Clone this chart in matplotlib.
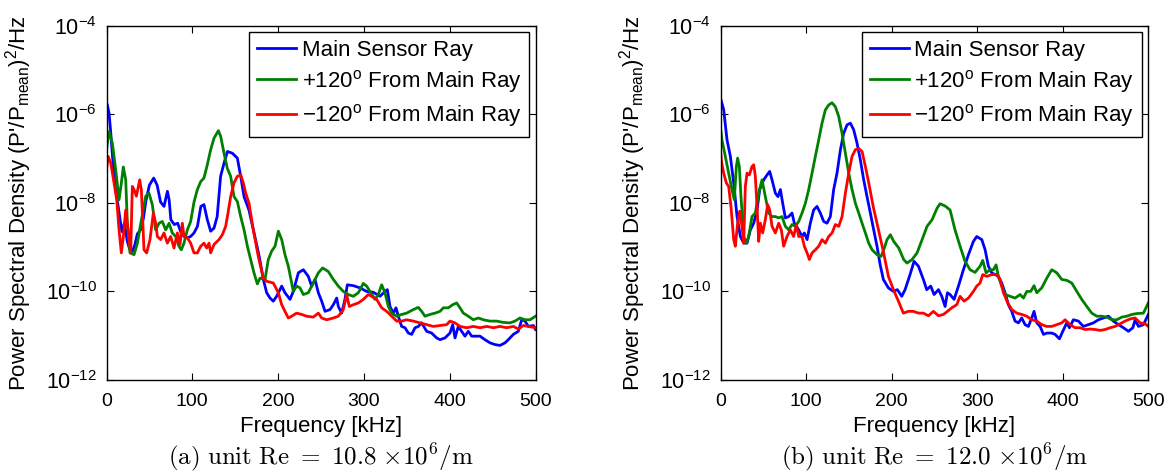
import matplotlib
matplotlib.use("Agg")
import numpy as np
import matplotlib.pyplot as plt
from matplotlib.ticker import FixedLocator, FuncFormatter, NullLocator

plt.rcParams['font.family'] = ['Liberation Sans', 'DejaVu Sans']
plt.rcParams['mathtext.fontset'] = 'custom'
plt.rcParams['mathtext.rm'] = 'Liberation Sans'
plt.rcParams['mathtext.it'] = 'Liberation Sans:italic'
plt.rcParams['mathtext.bf'] = 'Liberation Sans:bold'
plt.rcParams['mathtext.sf'] = 'Liberation Sans'

# ---------------- data (PSD, stored as log10 values) ----------------
# Panel (a): unit Re = 10.8e6/m
a_main_freq = [1, 3, 5, 7, 10, 13, 16, 18, 21, 24,
               27, 30, 33, 36, 40, 43, 46, 50, 55, 59,
               63, 67, 71, 73, 75, 79, 83, 87, 90.5, 94.4,
               98, 102, 106, 110, 113.6, 117.5, 121.4, 125.3, 129, 133,
               137, 141, 146.7, 152.5, 156.4, 160.3, 166, 172, 178, 182.8,
               186.7, 190.6, 194.4, 198.3, 204.2, 208, 213.9, 217.7, 223.6, 229.4,
               235.2, 239.1, 243, 246.9, 250.8, 254.7, 260.5, 264.4, 268.3, 270.2,
               274.1, 277.9, 280.7, 287.7, 295.4, 303.2, 311, 318.8, 324.6, 327.3,
               330.4, 334.3, 337.4, 340.1, 344, 347.9, 351.8, 355.7, 359.6, 363.4,
               367.3, 373.1, 378.9, 384.8, 388.7, 394.5, 400.3, 403.5, 406.2, 410,
               413.9, 417.8, 421.7, 425.6, 435.3, 441.1, 446.9, 452.8, 458.6, 464.5,
               468.3, 474.2, 480, 483.9, 487.8, 491.6, 497.5, 500]
a_main_log = [-5.79, -5.98, -6.43, -6.95, -7.6, -8.0, -8.4, -8.65, -8.45, -8.85,
              -9.05, -9.1, -8.95, -8.7, -8.6, -8.35, -7.95, -7.6, -7.44, -7.6,
              -7.98, -8.08, -7.74, -7.93, -8.38, -8.49, -8.46, -8.68, -8.76, -8.79,
              -8.76, -8.68, -8.53, -8.08, -8.04, -8.38, -8.64, -8.57, -8.31, -7.40,
              -7.10, -6.84, -6.88, -6.99, -7.40, -7.86, -8.16, -8.68, -9.21, -9.73,
              -10.03, -10.15, -10.22, -10.11, -9.88, -10.03, -10.18, -10.0, -9.58, -9.51,
              -9.66, -9.88, -9.73, -10.03, -10.22, -10.45, -10.41, -10.30, -10.15, -10.34,
              -10.49, -10.18, -9.85, -9.87, -9.92, -10.0, -10.02, -10.11, -10.0, -9.96,
              -10.34, -10.49, -10.37, -10.56, -10.79, -10.82, -10.94, -10.97, -10.82, -10.79,
              -10.71, -10.90, -10.94, -11.05, -11.09, -11.05, -10.94, -10.75, -11.05, -10.79,
              -10.90, -11.01, -10.90, -11.01, -11.01, -11.09, -11.16, -11.20, -11.22, -11.16,
              -11.09, -10.97, -10.90, -10.64, -10.67, -10.79, -10.77, -10.86]

a_plus_freq = [0, 2.9, 6.8, 10.7, 14.6, 17, 19.6, 22.4, 24.3, 27.4,
               32.1, 36, 40, 45.7, 49.5, 53.4, 57.3, 61.2, 65, 69,
               72.9, 76.7, 80.6, 84.5, 87.2, 90.3, 94.2, 98.1, 102, 105.9,
               109.8, 113.6, 117.5, 121.4, 125.3, 130.4, 133.1, 137, 140.8, 144.7,
               148.6, 152.5, 156.4, 160.3, 164.2, 168, 171.9, 175.8, 178.9, 184.7,
               188.6, 192.5, 196.4, 200.3, 204.2, 208, 211.9, 215.8, 217.7, 221.6,
               225.5, 229.4, 235.2, 241, 246.9, 251.9, 258.5, 264.4, 270.2, 276,
               281.8, 287.7, 293.5, 299.3, 303.2, 307.1, 312.9, 316.8, 320.7, 324.6,
               328.5, 332.4, 338.2, 344, 349.8, 357.6, 363.4, 367.3, 371.2, 377,
               382.9, 388.7, 392.6, 398.4, 403.5, 408.1, 412, 415.9, 421.7, 427.5,
               433.4, 439.2, 446.9, 454.7, 462.5, 470.3, 476.1, 481.9, 487.8, 493.6,
               500]
a_plus_log = [-6.80, -6.39, -6.65, -7.25, -7.93, -7.6, -7.19, -7.48, -8.46, -9.13,
              -9.17, -8.91, -8.46, -7.85, -7.78, -8.04, -8.61, -8.46, -8.42, -8.61,
              -8.46, -8.68, -8.76, -8.98, -9.06, -8.91, -8.61, -8.42, -7.98, -7.70,
              -7.52, -7.44, -7.14, -6.80, -6.54, -6.37, -6.50, -6.88, -7.22, -7.40,
              -7.86, -7.97, -8.31, -8.61, -8.98, -9.28, -9.58, -9.83, -9.70, -9.73,
              -9.28, -9.09, -8.98, -8.64, -8.83, -9.17, -9.43, -9.81, -10.0, -9.88,
              -9.92, -10.07, -10.03, -9.81, -9.58, -9.47, -9.55, -9.73, -9.88, -10.0,
              -10.07, -10.11, -10.03, -9.82, -9.88, -10.0, -10.18, -10.07, -9.85, -10.03,
              -10.34, -10.49, -10.56, -10.52, -10.49, -10.41, -10.36, -10.45, -10.56, -10.52,
              -10.49, -10.45, -10.37, -10.37, -10.30, -10.26, -10.37, -10.49, -10.56, -10.64,
              -10.60, -10.64, -10.67, -10.67, -10.70, -10.71, -10.67, -10.60, -10.64, -10.64,
              -10.56]

a_minus_freq = [0.2, 1.8, 4.9, 8.8, 11.9, 14.6, 17.3, 19.6, 22.4, 25.1,
                28.2, 30.1, 32.1, 34.8, 38.7, 40.6, 43.7, 46.8, 50.7, 54.6,
                57.3, 59.3, 63.1, 67, 70.9, 74.8, 78.7, 82.6, 85.7, 88.4,
                90.3, 94.2, 98.1, 102, 105.9, 109.8, 113.6, 116.8, 119.5, 121.4,
                125.3, 131.1, 135, 138.9, 141.6, 144.7, 148.6, 152.5, 156.4, 159.5,
                162.2, 166.1, 171.1, 176.9, 182.8, 186.7, 194.4, 200.3, 204.2, 208,
                211.9, 215.8, 221.6, 227.5, 233.3, 241, 246.9, 250.8, 256.6, 264.4,
                270.2, 276, 279.9, 283, 287.7, 293.5, 299.3, 305.2, 309, 314.9,
                320.7, 326.5, 332.4, 338.2, 344, 349.8, 357.6, 365.4, 373.1, 380.9,
                388.7, 396.5, 400.3, 406.2, 412, 419.8, 427.5, 435.3, 443.1, 450.9,
                458.6, 466.4, 474.2, 480, 485.8, 491.6, 500]
a_minus_log = [-7.22, -6.95, -7.10, -7.55, -7.93, -8.61, -9.13, -8.76, -8.16, -8.61,
               -9.13, -7.63, -7.70, -7.85, -7.48, -7.70, -9.06, -9.13, -8.83, -8.23,
               -8.46, -8.76, -8.83, -8.68, -8.91, -8.76, -9.02, -8.68, -8.94, -8.46,
               -8.76, -8.79, -8.91, -9.13, -9.13, -8.98, -8.91, -9.02, -8.91, -9.13,
               -8.94, -8.83, -8.72, -8.53, -8.23, -7.86, -7.55, -7.40, -7.37, -7.55,
               -7.78, -8.01, -8.61, -9.21, -9.70, -9.77, -9.81, -10.03, -10.30, -10.45,
               -10.60, -10.56, -10.49, -10.52, -10.56, -10.58, -10.49, -10.60, -10.64, -10.60,
               -10.56, -10.41, -10.07, -10.34, -10.30, -10.26, -10.18, -10.07, -10.11, -10.18,
               -10.37, -10.45, -10.56, -10.67, -10.67, -10.64, -10.67, -10.71, -10.75, -10.79,
               -10.77, -10.75, -10.67, -10.71, -10.79, -10.82, -10.79, -10.82, -10.79, -10.82,
               -10.79, -10.82, -10.79, -10.85, -10.77, -10.79, -10.82]

# Panel (b): unit Re = 12.0e6/m
b_main_freq = [0.4, 3.5, 7.4, 11.3, 15.2, 19.1, 23, 26.9, 30.8, 34.7,
               38.6, 42.5, 45.6, 50.3, 54.2, 57.3, 60, 63.9, 67, 69.8,
               72.5, 75.6, 79.5, 83.4, 86.1, 91.2, 95.1, 97.8, 101, 104.8,
               108.7, 112.6, 116.5, 120.4, 124.3, 128.2, 132.1, 136, 140, 143.8,
               147.7, 151.6, 155.5, 159.4, 163.3, 167.2, 171.1, 175, 178.9, 182.8,
               186.5, 190.2, 196.1, 202, 206.6, 211.7, 215.6, 221.4, 226.1, 231.2,
               237, 240.9, 245.6, 249.5, 254.6, 258.5, 262.4, 265.1, 268.2, 272.9,
               278, 283.8, 289.7, 295.5, 299.4, 305.3, 309.2, 313, 316.9, 320.8,
               324.7, 328.6, 332.5, 336.4, 340.3, 344.2, 348.1, 352, 355.9, 359.8,
               363.7, 366.4, 369.6, 373.5, 377.4, 381.3, 387.1, 391, 396.1, 400,
               404.7, 407.8, 412.4, 418.3, 424.1, 430, 435.9, 441.7, 447.5, 453.4,
               459.2, 465.1, 470.9, 476.8, 481.9, 484.6, 488.5, 494.3, 500]
b_main_log = [-5.68, -5.90, -6.58, -6.95, -7.55, -8.31, -8.76, -8.91, -8.91, -8.61,
              -8.46, -8.16, -7.70, -7.48, -7.37, -7.29, -7.48, -7.78, -7.86, -7.70,
              -8.01, -8.34, -8.31, -8.23, -8.46, -8.61, -8.76, -8.68, -8.83, -8.46,
              -8.16, -8.08, -8.23, -8.42, -8.46, -8.31, -7.70, -7.33, -6.80, -6.43,
              -6.24, -6.20, -6.35, -6.65, -7.03, -7.48, -7.86, -8.23, -8.61, -8.98,
              -9.40, -9.73, -9.92, -10.0, -9.96, -10.11, -9.96, -9.62, -9.32, -9.43,
              -9.73, -9.96, -9.88, -10.07, -9.96, -10.11, -10.34, -10.03, -10.07, -10.18,
              -9.88, -9.51, -9.17, -8.87, -8.76, -8.83, -9.06, -9.43, -9.58, -9.62,
              -9.66, -9.81, -10.03, -10.30, -10.45, -10.67, -10.71, -10.60, -10.75, -10.79,
              -10.60, -10.45, -10.71, -10.79, -10.97, -10.94, -10.94, -10.97, -11.07, -10.90,
              -10.71, -10.82, -10.64, -10.67, -10.79, -10.75, -10.71, -10.64, -10.60, -10.56,
              -10.67, -10.75, -10.82, -10.90, -10.82, -10.64, -10.79, -10.75, -10.52]

b_plus_freq = [0, 1.5, 5.4, 9.3, 13.2, 15.9, 18.3, 19.8, 21.8, 23.7,
               26.9, 30, 32.7, 36.6, 40.5, 44.4, 48.3, 52.2, 56.1, 60,
               63.9, 67.8, 71.7, 75.6, 79.5, 83.4, 87.3, 91.2, 95.1, 99,
               102.9, 106.8, 110.7, 114.6, 118.5, 122.4, 126.3, 130.2, 134.1, 138,
               141.9, 145.8, 149.7, 153.6, 157.5, 161.4, 165.3, 169.2, 173.1, 177,
               182.8, 187.5, 190.6, 194.5, 198.4, 202.3, 208.2, 214, 217.9, 223.8,
               229.6, 235.5, 241.3, 247.2, 253, 256.5, 262.3, 268.2, 274, 279.9,
               285.7, 291.6, 297.4, 303.3, 306.4, 310.3, 315, 318.9, 322, 324.7,
               328.6, 332.5, 338.4, 344.2, 350.1, 354, 357.9, 362.5, 366.4, 369.6,
               375.4, 381.3, 387.1, 393, 398.8, 404.7, 410.5, 416.4, 422.2, 428.1,
               433.9, 439.8, 445.6, 451.4, 457.3, 463.1, 469, 474.8, 480.7, 486.5,
               494.3, 500]
b_plus_log = [-6.35, -6.58, -6.95, -7.33, -7.70, -7.93, -7.18, -6.99, -7.18, -7.86,
              -8.76, -8.91, -8.76, -8.31, -8.23, -7.78, -7.48, -7.86, -8.23, -8.31,
              -8.31, -8.34, -8.31, -8.53, -8.61, -8.49, -8.53, -8.42, -8.23, -8.01,
              -7.70, -7.33, -6.95, -6.58, -6.20, -5.90, -5.79, -5.74, -5.83, -6.05,
              -6.43, -6.88, -7.33, -7.70, -8.01, -8.23, -8.46, -8.68, -8.91, -9.06,
              -9.17, -9.21, -9.06, -8.83, -8.72, -8.87, -9.02, -9.28, -9.36, -9.28,
              -9.13, -8.83, -8.53, -8.38, -8.12, -8.02, -8.07, -8.16, -8.61, -8.98,
              -9.32, -9.51, -9.57, -9.43, -9.30, -9.58, -9.51, -9.51, -9.40, -9.66,
              -9.88, -10.07, -10.11, -10.15, -10.07, -10.15, -10.0, -10.0, -9.87, -10.03,
              -9.92, -9.70, -9.51, -9.58, -9.73, -9.75, -9.81, -10.0, -10.18, -10.34,
              -10.49, -10.56, -10.56, -10.58, -10.64, -10.64, -10.58, -10.56, -10.52, -10.50,
              -10.49, -10.26]

b_minus_freq = [0, 1.2, 3.5, 6.6, 9.3, 12, 15.2, 17.1, 19.8, 22.2,
                24.9, 26.9, 28.8, 30.8, 33.5, 36.6, 38.6, 40.5, 42.5, 44.4,
                46.4, 49.1, 52.2, 54.9, 57.3, 60, 63.9, 67.8, 70.9, 73.6,
                77.5, 81.4, 85.3, 88.5, 91.2, 95.1, 97.8, 101, 103.7, 106.8,
                110.7, 114.6, 118.5, 122.4, 126.3, 130.2, 134.1, 138, 141.9, 145.8,
                149.7, 153.6, 157.5, 161.4, 165.3, 169.2, 173.1, 178.5, 184.4, 190.2,
                196.1, 202, 207.8, 213.6, 219.5, 225.3, 231.2, 237, 242.9, 248.7,
                254.6, 260.4, 265.1, 270.2, 276, 279.9, 284.6, 289.7, 295.5, 299.4,
                303.3, 306.4, 311.1, 317, 322.8, 326.7, 330.6, 335.7, 340.4, 346.2,
                352.1, 357.9, 363.7, 369.6, 375.4, 381.3, 387.1, 393, 398.8, 402.7,
                408.6, 414.4, 420.3, 426.1, 432, 437.8, 443.7, 449.5, 455.4, 461.2,
                467.1, 472.9, 478.8, 484.6, 490.5, 496.3, 500]
b_minus_log = [-6.88, -7.10, -7.33, -7.55, -7.63, -8.08, -8.83, -8.98, -8.46, -8.19,
               -8.53, -8.91, -7.63, -7.33, -7.37, -7.18, -7.14, -7.40, -8.08, -8.87,
               -8.46, -8.68, -8.38, -8.04, -8.16, -8.53, -8.68, -8.46, -8.61, -8.98,
               -8.76, -8.61, -8.76, -8.49, -8.76, -8.76, -8.98, -9.13, -9.28, -9.13,
               -9.06, -8.98, -8.83, -8.91, -8.76, -8.68, -8.49, -8.53, -8.31, -7.78,
               -7.33, -6.95, -6.80, -6.77, -6.84, -7.18, -7.55, -8.1, -8.6, -9.1,
               -9.66, -9.96, -10.22, -10.49, -10.45, -10.45, -10.49, -10.49, -10.55, -10.45,
               -10.55, -10.52, -10.45, -10.37, -10.30, -10.11, -10.22, -10.15, -10.0, -9.88,
               -9.81, -9.62, -9.66, -9.62, -9.62, -9.73, -10.03, -10.26, -10.41, -10.49,
               -10.52, -10.56, -10.64, -10.67, -10.75, -10.79, -10.79, -10.75, -10.71, -10.64,
               -10.75, -10.82, -10.82, -10.86, -10.85, -10.86, -10.88, -10.86, -10.82, -10.79,
               -10.73, -10.67, -10.62, -10.60, -10.71, -10.73, -10.79]

series_labels = ["Main Sensor Ray",
                 "+120$^{\\mathrm{o}}$ From Main Ray",
                 "\u2212120$^{\\mathrm{o}}$ From Main Ray"]
series_colors = ["#0000ff", "#008000", "#ff0000"]
x_ticks = [0, 100, 200, 300, 400, 500]
y_tick_exps = [-12, -10, -8, -6, -4]
captions = [r"$\mathrm{(a)\ unit\ Re}\ =\ 10.8\ {\times}10^{6}/\mathrm{m}$",
            r"$\mathrm{(b)\ unit\ Re}\ =\ 12.0\ {\times}10^{6}/\mathrm{m}$"]
xlabel = "Frequency [kHz]"
ylabel = "Power Spectral Density (P'/P$_{\\mathrm{mean}}$)$^{2}$/Hz"

panels = [
    [(a_main_freq, a_main_log), (a_plus_freq, a_plus_log), (a_minus_freq, a_minus_log)],
    [(b_main_freq, b_main_log), (b_plus_freq, b_plus_log), (b_minus_freq, b_minus_log)],
]

W, H = 1172, 473
fig = plt.figure(figsize=(W / 100, H / 100), dpi=100)

ax_left_px = [106.5, 720.7]
ax_w_px = [429.0, 427.6]
ax_top_px, ax_bot_px = 25.7, 380.0

for i, panel in enumerate(panels):
    ax = fig.add_axes([ax_left_px[i] / W, 1 - ax_bot_px / H,
                       ax_w_px[i] / W, (ax_bot_px - ax_top_px) / H])
    for (fr, lg), lab, col in zip(panel, series_labels, series_colors):
        ax.plot(fr, 10.0 ** np.asarray(lg), color=col, lw=2.0, label=lab,
                solid_joinstyle='round')
    ax.set_yscale('log')
    ax.set_xlim(0, 500)
    ax.set_ylim(1e-12, 1e-4)
    ax.xaxis.set_major_locator(FixedLocator(x_ticks))
    ax.yaxis.set_major_locator(FixedLocator([10.0 ** e for e in y_tick_exps]))
    ax.yaxis.set_minor_locator(NullLocator())
    ax.yaxis.set_major_formatter(FuncFormatter(
        lambda v, p: r"$10^{%d}$" % int(round(np.log10(v)))))
    ax.tick_params(direction='in', top=True, right=True, length=5, width=0.8,
                   colors='black')
    ax.tick_params(axis='x', pad=9, labelsize=14)
    ax.tick_params(axis='y', pad=7, labelsize=15.5)
    for s in ax.spines.values():
        s.set_linewidth(1.0)
    leg = ax.legend(loc='upper right', fontsize=16, frameon=True, fancybox=False,
                    edgecolor='black', framealpha=1.0, borderaxespad=0.28,
                    handlelength=1.75, handletextpad=0.25, labelspacing=0.32,
                    borderpad=0.35)
    leg.get_frame().set_linewidth(1.0)
    cx = (ax_left_px[i] + ax_w_px[i] / 2) / W
    fig.text(cx, 1 - 432 / H, xlabel, ha='center', va='baseline', fontsize=16)
    fig.text(cx, 1 - 457 / H, captions[i], ha='center', va='center', fontsize=18,
             math_fontfamily='cm')
    fig.text((ax_left_px[i] - 88) / W, 1 - (ax_top_px + ax_bot_px) / 2 / H, ylabel,
             rotation=90, ha='center', va='center', fontsize=16)

fig.savefig("out.png", dpi=100)
